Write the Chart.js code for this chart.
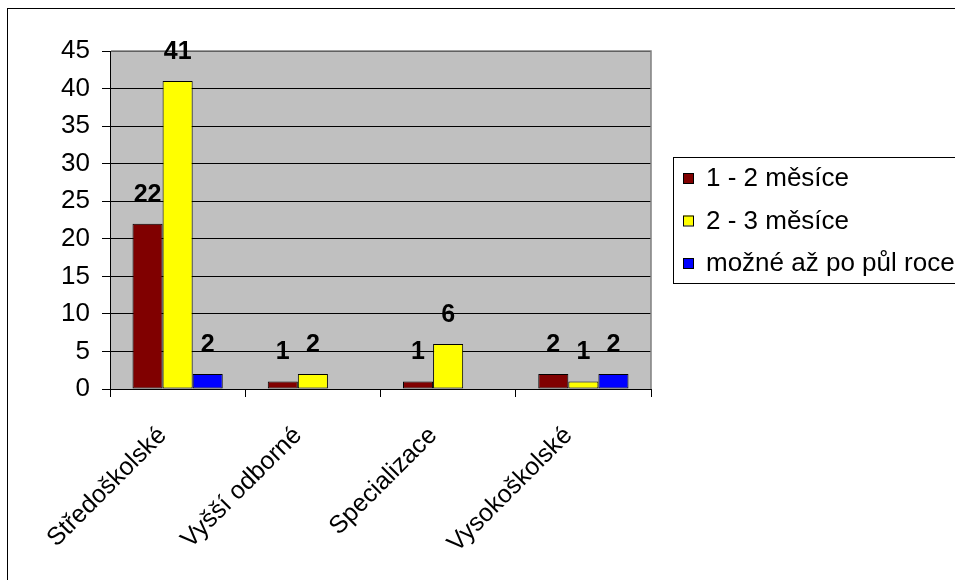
<!DOCTYPE html>
<html>
<head>
<meta charset="utf-8">
<script src="https://cdn.jsdelivr.net/npm/chart.js@4/dist/chart.umd.min.js"></script>
<style>
  html, body { margin: 0; padding: 0; background: #ffffff; }
  canvas { display: block; }
</style>
</head>
<body>
<canvas id="c" width="955" height="580"></canvas>
<script>
// Kategorie vzdělání a počty odpovědí podle doby
const categories = ['Středoškolské', 'Vyšší odborné', 'Specializace', 'Vysokoškolské'];
const seriesNames = ['1 - 2 měsíce', '2 - 3 měsíce', 'možné až po půl roce'];
const oneToTwoMonths = [22, 1, 1, 2];
const twoToThreeMonths = [41, 2, 6, 1];
const afterHalfYear = [2, 0, 0, 2];
const yMax = 45;
const yStep = 5;

const seriesColors = ['#800000', '#FFFF00', '#0000FF'];
const FONT = '"Liberation Sans", Arial, sans-serif';

// Šedá plocha grafu, rámečky, popisky hodnot a legenda
const decorations = {
  id: 'decorations',
  beforeDraw(chart) {
    const { ctx, chartArea: a } = chart;
    ctx.save();
    ctx.fillStyle = '#ffffff';
    ctx.fillRect(0, 0, chart.width, chart.height);
    ctx.fillStyle = '#C0C0C0';
    ctx.fillRect(a.left, a.top, a.right - a.left, a.bottom - a.top);
    ctx.restore();
  },
  afterDraw(chart) {
    const { ctx, chartArea: a } = chart;
    ctx.save();

    // horní a pravý okraj plochy grafu
    ctx.strokeStyle = '#808080';
    ctx.lineWidth = 1.5;
    ctx.beginPath();
    ctx.moveTo(a.left + 1, a.top);
    ctx.lineTo(a.right, a.top);
    ctx.lineTo(a.right, a.bottom);
    ctx.stroke();

    // hodnoty nad sloupci
    ctx.fillStyle = '#000000';
    ctx.font = 'bold 25px ' + FONT;
    ctx.textAlign = 'center';
    ctx.textBaseline = 'middle';
    chart.data.datasets.forEach((ds, di) => {
      const meta = chart.getDatasetMeta(di);
      meta.data.forEach((bar, i) => {
        const v = ds.data[i];
        if (v > 0) ctx.fillText(String(v), bar.x, bar.y - 29);
      });
    });

    // legenda
    ctx.strokeStyle = '#000000';
    ctx.lineWidth = 1;
    ctx.strokeRect(673.5, 157.5, 400, 126);
    ctx.font = '26px ' + FONT;
    ctx.textAlign = 'left';
    ctx.textBaseline = 'middle';
    chart.data.datasets.forEach((ds, di) => {
      const cy = 178 + di * 42.5;
      ctx.fillStyle = ds.backgroundColor;
      ctx.fillRect(683, cy - 5, 10, 10);
      ctx.strokeStyle = '#000000';
      ctx.strokeRect(683.5, cy - 4.5, 10, 10);
      ctx.fillStyle = '#000000';
      ctx.fillText(ds.label, 706, cy + 1);
    });

    // vnější rámeček
    ctx.strokeStyle = '#000000';
    ctx.lineWidth = 1;
    ctx.strokeRect(7.5, 8.5, 1000, 1000);
    ctx.restore();
  }
};

const seriesValues = [oneToTwoMonths, twoToThreeMonths, afterHalfYear];

new Chart(document.getElementById('c'), {
  type: 'bar',
  data: {
    labels: categories,
    datasets: seriesNames.map((name, i) => ({
      label: name,
      data: seriesValues[i],
      backgroundColor: seriesColors[i],
      borderColor: '#000000',
      borderWidth: 1,
      borderSkipped: false,
      categoryPercentage: 0.667,
      barPercentage: 1.0
    }))
  },
  options: {
    responsive: false,
    animation: false,
    devicePixelRatio: 1,
    layout: { padding: { top: 51, right: 304, bottom: 0, left: 0 } },
    plugins: {
      legend: { display: false },
      title: { display: false },
      tooltip: { enabled: false }
    },
    scales: {
      x: {
        type: 'category',
        offset: true,
        grid: {
          display: true,
          offset: true,
          drawOnChartArea: false,
          drawTicks: true,
          tickLength: 8,
          color: '#000000',
          lineWidth: 1
        },
        border: { display: true, color: '#000000', width: 1 },
        ticks: {
          autoSkip: false,
          minRotation: 45,
          maxRotation: 45,
          padding: 24,
          labelOffset: -15,
          color: '#000000',
          font: { family: FONT, size: 25 }
        },
        afterFit(scale) { scale.height = 191; }
      },
      y: {
        min: 0,
        max: yMax,
        ticks: {
          stepSize: yStep,
          color: '#000000',
          padding: 12,
          font: { family: FONT, size: 26 }
        },
        grid: {
          color: '#000000',
          lineWidth: 1,
          drawTicks: true,
          tickLength: 8
        },
        border: { display: true, color: '#000000', width: 1 },
        afterFit(scale) { scale.width = 110; }
      }
    }
  },
  plugins: [decorations]
});
</script>
</body>
</html>
